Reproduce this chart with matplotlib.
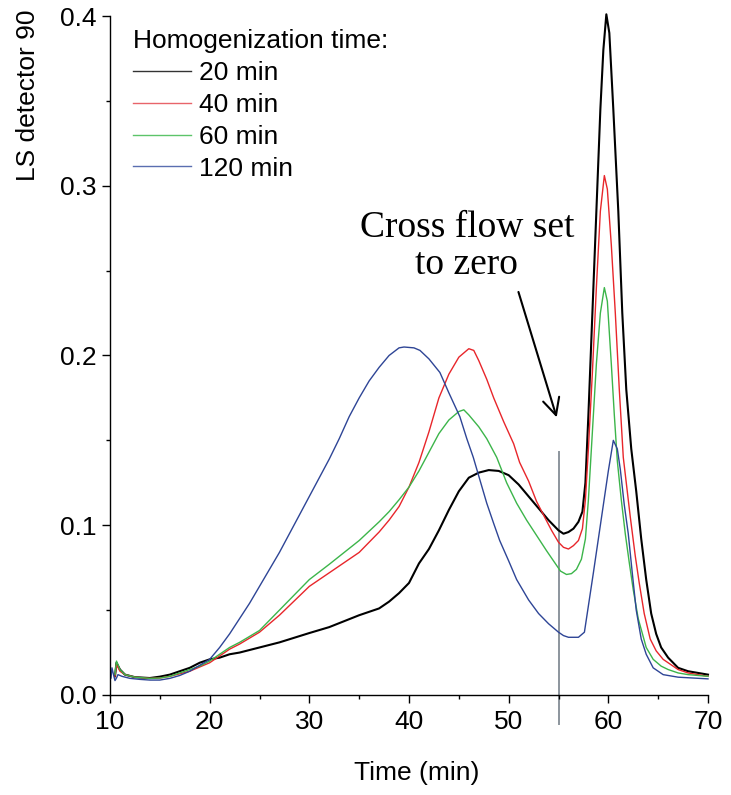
import matplotlib
matplotlib.use("Agg")
import matplotlib.pyplot as plt
from matplotlib.ticker import MultipleLocator

# homogenization 20 min
t_20 = [10.5, 10.65, 11.0, 11.5, 12.5, 14, 15, 16, 17, 18, 19, 20, 21, 22, 23, 25, 27, 30, 32, 35,
        37, 38, 39, 40, 41, 42, 43, 44, 45, 46, 47, 48, 49, 50, 51, 52, 53, 54, 55, 55.5,
        56, 56.5, 57, 57.4, 57.7, 58.0, 58.4, 58.8, 59.2, 59.5, 59.8, 60.1, 60.5, 61.0, 61.4, 61.8,
        62.3, 62.8, 63.3, 63.8, 64.3, 64.8, 65.3, 66, 66.5, 67, 68, 69, 70]
ls_20 = [0.011, 0.019, 0.015, 0.012, 0.0105, 0.010, 0.0108, 0.012, 0.014, 0.016, 0.019, 0.021, 0.022, 0.024, 0.025, 0.028, 0.031, 0.0365, 0.040, 0.047,
         0.051, 0.055, 0.060, 0.066, 0.0775, 0.086, 0.097, 0.109, 0.120, 0.128, 0.131, 0.1325, 0.132, 0.1295, 0.124, 0.117, 0.110, 0.103, 0.097, 0.095,
         0.096, 0.098, 0.102, 0.108, 0.125, 0.165, 0.225, 0.285, 0.345, 0.380, 0.401, 0.390, 0.345, 0.285, 0.225, 0.180,
         0.145, 0.120, 0.092, 0.068, 0.048, 0.036, 0.028, 0.022, 0.019, 0.016, 0.014, 0.013, 0.012]

# 40 min
t_40 = [10.5, 10.65, 11.0, 11.5, 12.5, 14, 15, 16, 17, 18, 19, 20, 21, 22, 23, 25, 27, 30, 32, 35,
        37, 38, 39, 40, 41, 42, 43, 44, 45, 46, 46.5, 47, 47.8, 48.5, 49.5, 50.5, 51.1, 52, 52.8, 53.5,
        54.3, 55, 55.5, 56, 56.5, 57, 57.4, 57.7, 58.0, 58.4, 58.8, 59.2, 59.6, 59.9, 60.3, 60.7,
        61.1, 61.5, 61.8, 62.2, 62.7, 63.1, 63.6, 64.2, 64.8, 65.5, 66, 67, 68, 70]
ls_40 = [0.011, 0.018, 0.014, 0.012, 0.0105, 0.0098, 0.010, 0.011, 0.0125, 0.014, 0.0165, 0.019, 0.023, 0.027, 0.030, 0.037, 0.047, 0.064, 0.072, 0.084,
         0.096, 0.103, 0.111, 0.1225, 0.137, 0.155, 0.175, 0.189, 0.199, 0.204, 0.203, 0.197, 0.186, 0.175, 0.161, 0.148, 0.137, 0.126, 0.114, 0.106,
         0.097, 0.090, 0.087, 0.086, 0.088, 0.091, 0.098, 0.115, 0.145, 0.190, 0.240, 0.285, 0.306, 0.298, 0.265, 0.225,
         0.180, 0.140, 0.125, 0.105, 0.082, 0.066, 0.048, 0.033, 0.026, 0.021, 0.019, 0.015, 0.013, 0.011]

# 60 min
t_60 = [10.5, 10.65, 11.0, 11.5, 12.5, 14, 15, 16, 17, 18, 19, 20, 21, 22, 23, 25, 27, 30, 32, 35,
        37, 38, 39, 40, 41, 42, 43, 44, 45, 45.5, 46, 47, 47.8, 48.8, 49.8, 50.8, 51.8, 52.8, 53.8, 54.5,
        55.2, 55.8, 56.3, 56.8, 57.3, 57.7, 58.0, 58.4, 58.8, 59.2, 59.6, 59.9, 60.3, 60.6, 60.9, 61.3,
        61.7, 62.1, 62.5, 63.0, 63.8, 64.5, 65.3, 66, 67, 68, 70]
ls_60 = [0.012, 0.020, 0.015, 0.012, 0.0105, 0.0098, 0.010, 0.011, 0.013, 0.015, 0.017, 0.020, 0.024, 0.028, 0.031, 0.038, 0.050, 0.068, 0.077, 0.091,
         0.102, 0.108, 0.115, 0.1225, 0.132, 0.143, 0.154, 0.162, 0.167, 0.168, 0.165, 0.158, 0.151, 0.140, 0.125, 0.113, 0.103, 0.094, 0.085, 0.079,
         0.073, 0.071, 0.0715, 0.074, 0.080, 0.092, 0.115, 0.155, 0.195, 0.225, 0.240, 0.232, 0.195, 0.165, 0.138, 0.115,
         0.095, 0.078, 0.062, 0.045, 0.028, 0.021, 0.017, 0.015, 0.013, 0.012, 0.011]

# 120 min
t_120 = [10.1, 10.2, 10.35, 10.5, 10.65, 10.8, 11.2, 12, 13, 14, 15, 16, 17, 18, 19, 20, 21, 22, 23, 24,
         25, 26, 27, 28, 29, 30, 31, 32, 33, 34, 35, 36, 37, 38, 39, 39.5, 40.5, 41.1, 42, 43.1,
         44, 45.1, 45.8, 46.45, 47.1, 47.8, 48.5, 49.1, 50, 50.8, 52, 53, 54, 55, 55.5, 56, 57, 57.6,
         58.5, 59, 59.5, 60, 60.5, 60.9, 61.2, 61.6, 62.0, 62.4, 62.8, 63.3, 63.8, 64.5, 65.5, 67, 70]
ls_120 = [0.010, 0.016, 0.012, 0.0085, 0.010, 0.012, 0.011, 0.0098, 0.0092, 0.0088, 0.0088, 0.0098, 0.0115, 0.014, 0.0175, 0.021, 0.028, 0.036, 0.045, 0.054,
          0.064, 0.074, 0.084, 0.095, 0.106, 0.117, 0.128, 0.139, 0.151, 0.164, 0.175, 0.185, 0.193, 0.2, 0.2045, 0.205, 0.2045, 0.203, 0.198, 0.190,
          0.178, 0.164, 0.151, 0.140, 0.127, 0.113, 0.101, 0.091, 0.079, 0.068, 0.056, 0.048, 0.042, 0.037, 0.035, 0.034, 0.034, 0.037,
          0.072, 0.092, 0.112, 0.132, 0.150, 0.145, 0.133, 0.112, 0.095, 0.072, 0.050, 0.033, 0.024, 0.016, 0.012, 0.0105, 0.0095]

labels = ["20 min", "40 min", "60 min", "120 min"]
colors = ["#000000", "#e8262b", "#3cb54a", "#2e4596"]
legend_colors = ["#333333", "#e8646a", "#5cc46a", "#5a6eb0"]

cross_flow_t = 55
cross_flow_y = [-0.017, 0.143]

plt.rcParams['font.family'] = ['Liberation Sans', 'DejaVu Sans']
plt.rcParams['font.size'] = 19


def main():
    fig = plt.figure(figsize=(7.31, 7.95), dpi=100)
    ax = fig.add_axes([110 / 731, 1 - 695 / 795, 598 / 731, 679 / 795])

    series = [(t_20, ls_20), (t_40, ls_40), (t_60, ls_60), (t_120, ls_120)]
    widths = [1.5, 1.0, 1.0, 1.0]
    for (t, y), lab, c, w in zip(series, labels, colors, widths):
        ax.plot(t, y, color=c, lw=w, label=lab, clip_on=False)

    # cross flow marker
    ax.plot([cross_flow_t, cross_flow_t], cross_flow_y, color="#8c959d", lw=1.4, clip_on=False, zorder=0)
    ax.annotate("", xy=(54.9, 0.162), xytext=(50.9, 0.239),
                arrowprops=dict(arrowstyle="->", color="black", lw=1.5, mutation_scale=30))
    ax.text(45.8, 0.2645, "Cross flow set\nto zero", ha="center", va="center",
            family="Liberation Serif", fontsize=27, linespacing=1.1)

    ax.set_xlim(10, 70)
    ax.set_ylim(0, 0.4)
    ax.xaxis.set_major_locator(MultipleLocator(10))
    ax.xaxis.set_minor_locator(MultipleLocator(5))
    ax.yaxis.set_major_locator(MultipleLocator(0.1))
    ax.yaxis.set_minor_locator(MultipleLocator(0.05))
    ax.yaxis.set_major_formatter(plt.FuncFormatter(lambda v, p: "%.1f" % v))

    for s in ["top", "right"]:
        ax.spines[s].set_visible(False)
    for s in ["left", "bottom"]:
        ax.spines[s].set_linewidth(1.0)
    ax.tick_params(which="major", direction="out", length=5.5, width=1.0)
    ax.tick_params(which="minor", direction="out", length=3, width=1.0)
    ax.tick_params(axis="x", which="major", pad=5)
    ax.tick_params(axis="y", which="major", pad=4)

    fig.text(417 / 731, 1 - 773 / 795, "Time (min)", ha="center", va="center")
    fig.text(28 / 731, 1 - 95 / 795, "LS detector 90", ha="center", va="center", rotation=90)

    leg = ax.legend(title="Homogenization time:", loc="upper left",
                    bbox_to_anchor=(133 / 731, 1 - 29 / 795), bbox_transform=fig.transFigure,
                    frameon=False, borderpad=0, borderaxespad=0, handlelength=2.2,
                    handletextpad=0.3, labelspacing=0.3, alignment="left",
                    title_fontsize=19)
    for h, c in zip(leg.get_lines(), legend_colors):
        h.set_linewidth(1.0)
        h.set_color(c)

    fig.savefig("out.png", dpi=100)


if __name__ == '__main__':
    main()
